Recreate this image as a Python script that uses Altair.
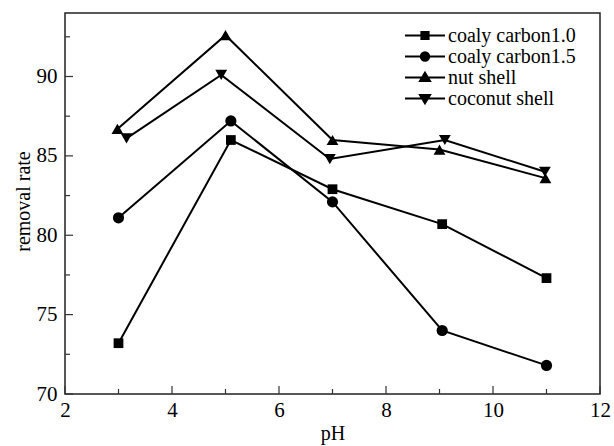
import altair as alt
import pandas as pd

# ---- data ----
series = ["coaly carbon1.0", "coaly carbon1.5", "nut shell", "coconut shell"]
ph_c10 = [3.0, 5.1, 7.0, 9.05, 11.0]
rate_c10 = [73.2, 86.0, 82.9, 80.7, 77.3]
ph_c15 = [3.0, 5.1, 7.0, 9.05, 11.0]
rate_c15 = [81.1, 87.2, 82.1, 74.0, 71.8]
ph_nut = [2.98, 5.0, 7.0, 9.0, 10.98]
rate_nut = [86.7, 92.6, 86.0, 85.4, 83.6]
ph_coco = [3.15, 4.92, 6.95, 9.1, 10.97]
rate_coco = [86.1, 90.1, 84.8, 86.0, 84.0]

x_major = [2, 4, 6, 8, 10, 12]
x_minor = [3, 5, 7, 9, 11]
y_major = [70, 75, 80, 85, 90]
y_minor = [72.5, 77.5, 82.5, 87.5, 92.5]

shapes = ["square", "circle", "triangle-up", "triangle-down"]
sizes = [95, 125, 140, 140]
# legend symbols: a short line with the marker on it
legend_paths = [
    "M-1,0H1M-0.18,-0.18H0.18V0.18H-0.18Z",
    "M-1,0H1M-0.21,0A0.21,0.21 0 1,0 0.21,0A0.21,0.21 0 1,0 -0.21,0Z",
    "M-1,0H1M0,-0.24L0.25,0.17L-0.25,0.17Z",
    "M-1,0H1M0,0.24L0.25,-0.17L-0.25,-0.17Z",
]

rows = []
for name, xs_, ys_ in zip(series, [ph_c10, ph_c15, ph_nut, ph_coco],
                          [rate_c10, rate_c15, rate_nut, rate_coco]):
    for i, (a, b) in enumerate(zip(xs_, ys_)):
        rows.append({"series": name, "ph": a, "rate": b, "idx": i})
df = pd.DataFrame(rows)

FONT = "Liberation Serif"
W, H = 535, 381

xsc = alt.Scale(domain=[2, 12], nice=False, zero=False)
ysc = alt.Scale(domain=[70, 94], nice=False, zero=False)

x_axis = alt.Axis(values=x_major, ticks=False, tickSize=0, domain=False, grid=False,
                  labelFont=FONT, labelFontSize=21, labelColor="black", labelPadding=5,
                  labelFlush=False, title="pH", titleFont=FONT, titleFontSize=20,
                  titleFontWeight="normal", titleColor="black", titleY=29)
y_axis = alt.Axis(values=y_major, ticks=False, tickSize=0, domain=False, grid=False,
                  labelFont=FONT, labelFontSize=21, labelColor="black", labelPadding=8,
                  labelFlush=False, title="removal rate", titleFont=FONT, titleFontSize=20,
                  titleFontWeight="normal", titleColor="black", titleX=-32, titleY=188)


def X(field):
    return alt.X(field, scale=xsc, axis=x_axis, title="pH")


def Y(field):
    return alt.Y(field, scale=ysc, axis=y_axis, title="removal rate")


lines = alt.Chart(df).mark_line(color="black", strokeWidth=2).encode(
    x=X("ph:Q"), y=Y("rate:Q"), detail="series:N", order="idx:Q",
)

layers = [lines]
for name, sh, sz in zip(series, shapes, sizes):
    layers.append(
        alt.Chart(df).transform_filter(alt.datum.series == name)
        .mark_point(shape=sh, filled=True, color="black", size=sz, opacity=1)
        .encode(x=X("ph:Q"), y=Y("rate:Q"))
    )

legend_layer = alt.Chart(df).transform_filter("false").mark_point(
    filled=False, fill="black", stroke="black", strokeWidth=2, opacity=1
).encode(
    x=X("ph:Q"), y=Y("rate:Q"),
    shape=alt.Shape("series:N", scale=alt.Scale(domain=series, range=legend_paths),
                    legend=alt.Legend(title=None, orient="none", legendX=339, legendY=12,
                                      symbolSize=1600, clipHeight=21, rowPadding=0,
                                      padding=0, labelOffset=2, labelFont=FONT,
                                      labelFontSize=20, labelColor="black", labelLimit=300,
                                      symbolStrokeWidth=2, symbolOpacity=1)),
)
layers.append(legend_layer)

# inward ticks
xt_major = pd.DataFrame({"v": x_major})
xt_minor = pd.DataFrame({"v": x_minor})
yt_major = pd.DataFrame({"v": y_major})
yt_minor = pd.DataFrame({"v": y_minor})
tick_style = dict(color="#333333", strokeWidth=1.2)
layers += [
    alt.Chart(xt_major).mark_rule(**tick_style).encode(
        x=X("v:Q"), y=alt.value(H), y2=alt.value(H - 8)),
    alt.Chart(xt_minor).mark_rule(**tick_style).encode(
        x=X("v:Q"), y=alt.value(H), y2=alt.value(H - 5)),
    alt.Chart(yt_major).mark_rule(**tick_style).encode(
        y=Y("v:Q"), x=alt.value(0), x2=alt.value(8)),
    alt.Chart(yt_minor).mark_rule(**tick_style).encode(
        y=Y("v:Q"), x=alt.value(0), x2=alt.value(5)),
]

chart = alt.layer(*layers).properties(
    width=W, height=H,
    autosize=alt.AutoSizeParams(type="none"),
    padding={"left": 65, "top": 13, "right": 14, "bottom": 52},
    background="white",
).configure_view(stroke="#222222", strokeWidth=1.5)

chart.save("out.html", embed_options={"renderer": "svg", "actions": False})
